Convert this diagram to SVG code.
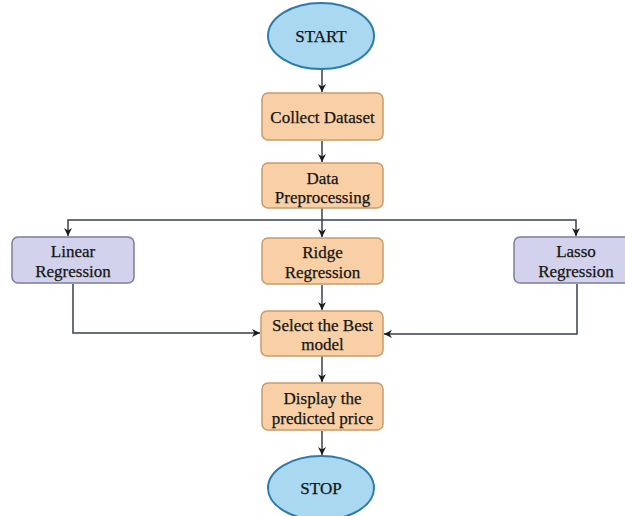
<svg xmlns="http://www.w3.org/2000/svg" width="625" height="516" viewBox="0 0 625 516">
  <defs>
    <marker id="arrow" viewBox="0 0 10 10" refX="10" refY="5" markerWidth="8" markerHeight="8" markerUnits="userSpaceOnUse" orient="auto">
      <path d="M0,0 L10,5 L0,10 L3,5 Z" fill="#1a1a1a"/>
    </marker>
  </defs>
  <style>
    .term { fill: #a9d8f0; stroke: #2b7bab; stroke-width: 2; }
    .step { fill: #f9d0a5; stroke: #c79b6b; stroke-width: 1.5; }
    .model { fill: #d2d2ec; stroke: #7c7ca0; stroke-width: 1.5; }
    .label { font-family: "Liberation Serif", "Times New Roman", serif; font-size: 17px; fill: #141414; text-anchor: middle; stroke: #141414; stroke-width: 0.25; }
    .link { fill: none; stroke: #3a3f4a; stroke-width: 1.5; marker-end: url(#arrow); }
    .line { fill: none; stroke: #3a3f4a; stroke-width: 1.5; }
  </style>
  <rect width="625" height="516" fill="#ffffff"/>

  <g id="connectors">
    <path class="link" d="M322,69 V92"/>
    <path class="link" d="M322,141 V162"/>
    <path class="line" d="M322,208 V220"/>
    <path class="link" d="M322,220 H68 V236"/>
    <path class="link" d="M322,220 H576 V236"/>
    <path class="link" d="M322,220 V237"/>
    <path class="link" d="M322,285 V310"/>
    <path class="link" d="M73,284 V333 H260"/>
    <path class="link" d="M577,284 V334 H384"/>
    <path class="link" d="M322,356 V382"/>
    <path class="link" d="M322,431 V455"/>
  </g>

  <g id="start">
    <ellipse class="term" cx="321" cy="36" rx="53" ry="33"/>
    <text class="label" x="321" y="42" font-size="18">START</text>
  </g>

  <g id="collect-dataset">
    <rect class="step" x="262" y="93" width="121" height="47" rx="6"/>
    <text class="label" x="322.5" y="123">Collect Dataset</text>
  </g>

  <g id="data-preprocessing">
    <rect class="step" x="262" y="163" width="121" height="45" rx="6"/>
    <text class="label" x="322.5" y="184">Data</text>
    <text class="label" x="322.5" y="203">Preprocessing</text>
  </g>

  <g id="linear-regression">
    <rect class="model" x="12" y="237" width="122" height="46" rx="6"/>
    <text class="label" x="73" y="257">Linear</text>
    <text class="label" x="73" y="277">Regression</text>
  </g>

  <g id="ridge-regression">
    <rect class="step" x="262" y="238" width="121" height="46" rx="6"/>
    <text class="label" x="322.5" y="258">Ridge</text>
    <text class="label" x="322.5" y="278">Regression</text>
  </g>

  <g id="lasso-regression">
    <rect class="model" x="514" y="237" width="124" height="46" rx="6"/>
    <text class="label" x="576" y="257">Lasso</text>
    <text class="label" x="576" y="277">Regression</text>
  </g>

  <g id="select-best-model">
    <rect class="step" x="261" y="311" width="122" height="45" rx="6"/>
    <text class="label" x="322.5" y="331">Select the Best</text>
    <text class="label" x="322.5" y="350">model</text>
  </g>

  <g id="display-price">
    <rect class="step" x="262" y="383" width="121" height="47" rx="6"/>
    <text class="label" x="322.5" y="404">Display the</text>
    <text class="label" x="322.5" y="424">predicted price</text>
  </g>

  <g id="stop">
    <ellipse class="term" cx="321" cy="488" rx="53" ry="32"/>
    <text class="label" x="321" y="494" font-size="18">STOP</text>
  </g>
</svg>
